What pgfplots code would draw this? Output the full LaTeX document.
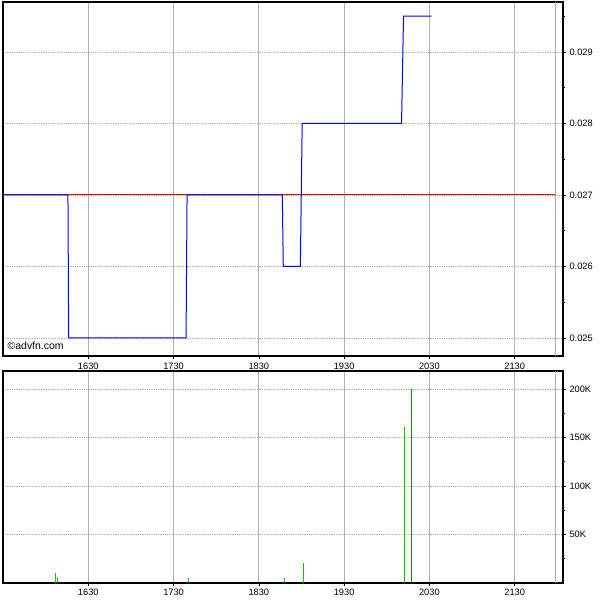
\documentclass[border=0pt]{standalone}
\usepackage{fontspec}
\setmainfont{Liberation Sans}
\usepackage{pgfplots}
\pgfplotsset{compat=1.18}
\definecolor{hgrid}{RGB}{178,178,150}
\definecolor{vgrid}{RGB}{175,175,175}
\definecolor{volgreen}{RGB}{0,200,0}
\definecolor{volgreendk}{RGB}{0,150,0}
\definecolor{pblue}{RGB}{0,0,255}
\definecolor{pred}{RGB}{230,0,0}
\pgfplotsset{
  advfn/.style={
    scale only axis,
    width=560bp,
    xmin=930, xmax=1324,
    xtick={990,1050,1110,1170,1230,1290},
    xticklabels={1630,1730,1830,1930,2030,2130},
    extra x ticks={1318.6},
    extra x tick labels={},
    extra x tick style={grid=major, major tick length=0pt},
    xmajorgrids, ymajorgrids,
    major x grid style={vgrid, line width=0.8bp},
    major y grid style={hgrid, line width=0.8bp, dash pattern=on 1bp off 0.8bp},
    axis line style={black, line width=1.2bp},
    tick align=outside,
    xtick pos=bottom,
    ytick pos=right,
    yticklabel pos=right,
    major tick length=3bp,
    minor tick length=2bp,
    tick style={black, line width=0.6bp},
    ticklabel style={font=\fontsize{9.3}{10}\selectfont},
    /pgf/number format/assume math mode=true,
    scaled y ticks=false,
    clip=true,
  }
}
\begin{document}
\begin{tikzpicture}
\useasboundingbox (0,0) rectangle (600bp,600bp);
% price panel
\begin{axis}[advfn,
  at={(3bp,598bp)}, anchor=north west,
  height=354bp,
  ymin=0.0247483, ymax=0.0296993,
  ytick={0.025,0.026,0.027,0.028,0.029},
  yticklabels={0.025,0.026,0.027,0.028,0.029},
  minor ytick={0.0255,0.0265,0.0275,0.0285,0.0295},
  xticklabel style={yshift=-1bp},
]
\addplot[pred, line width=1bp, mark=none] coordinates {(930,0.027) (1318.6,0.027)};
\addplot[pblue, line width=1bp, mark=none] coordinates {
  (930,0.027) (975.7,0.027) (976.2,0.025) (1058.8,0.025) (1059.5,0.027)
  (1126.5,0.027) (1127.2,0.026) (1139.2,0.026) (1140.5,0.028)
  (1210.4,0.028) (1211.8,0.0295) (1231.4,0.0295)
};
\node[anchor=south west, font=\fontsize{10.5}{12}\selectfont, inner sep=0pt] at (rel axis cs:0.008,0.018) {©advfn.com};
\end{axis}
% volume panel
\begin{axis}[advfn,
  at={(3bp,229bp)}, anchor=north west,
  height=212bp,
  ymin=0, ymax=218600,
  ytick={50000,100000,150000,200000},
  yticklabels={50K,100K,150K,200K},
  minor ytick={25000,75000,125000,175000},
  major y grid style={vgrid, line width=0.8bp, dash pattern=on 1bp off 0.8bp},
]
\addplot[ycomb, volgreen, line width=1bp, mark=none] coordinates {
  (966.6,10000) (968.2,5000) (1060.7,4800) (1127.9,4800) (1141.3,20300)
  (1212.4,161000)
};
\addplot[ycomb, volgreendk, line width=1bp, mark=none] coordinates {
  (1217.5,200000)
};
\end{axis}
\end{tikzpicture}
\end{document}
